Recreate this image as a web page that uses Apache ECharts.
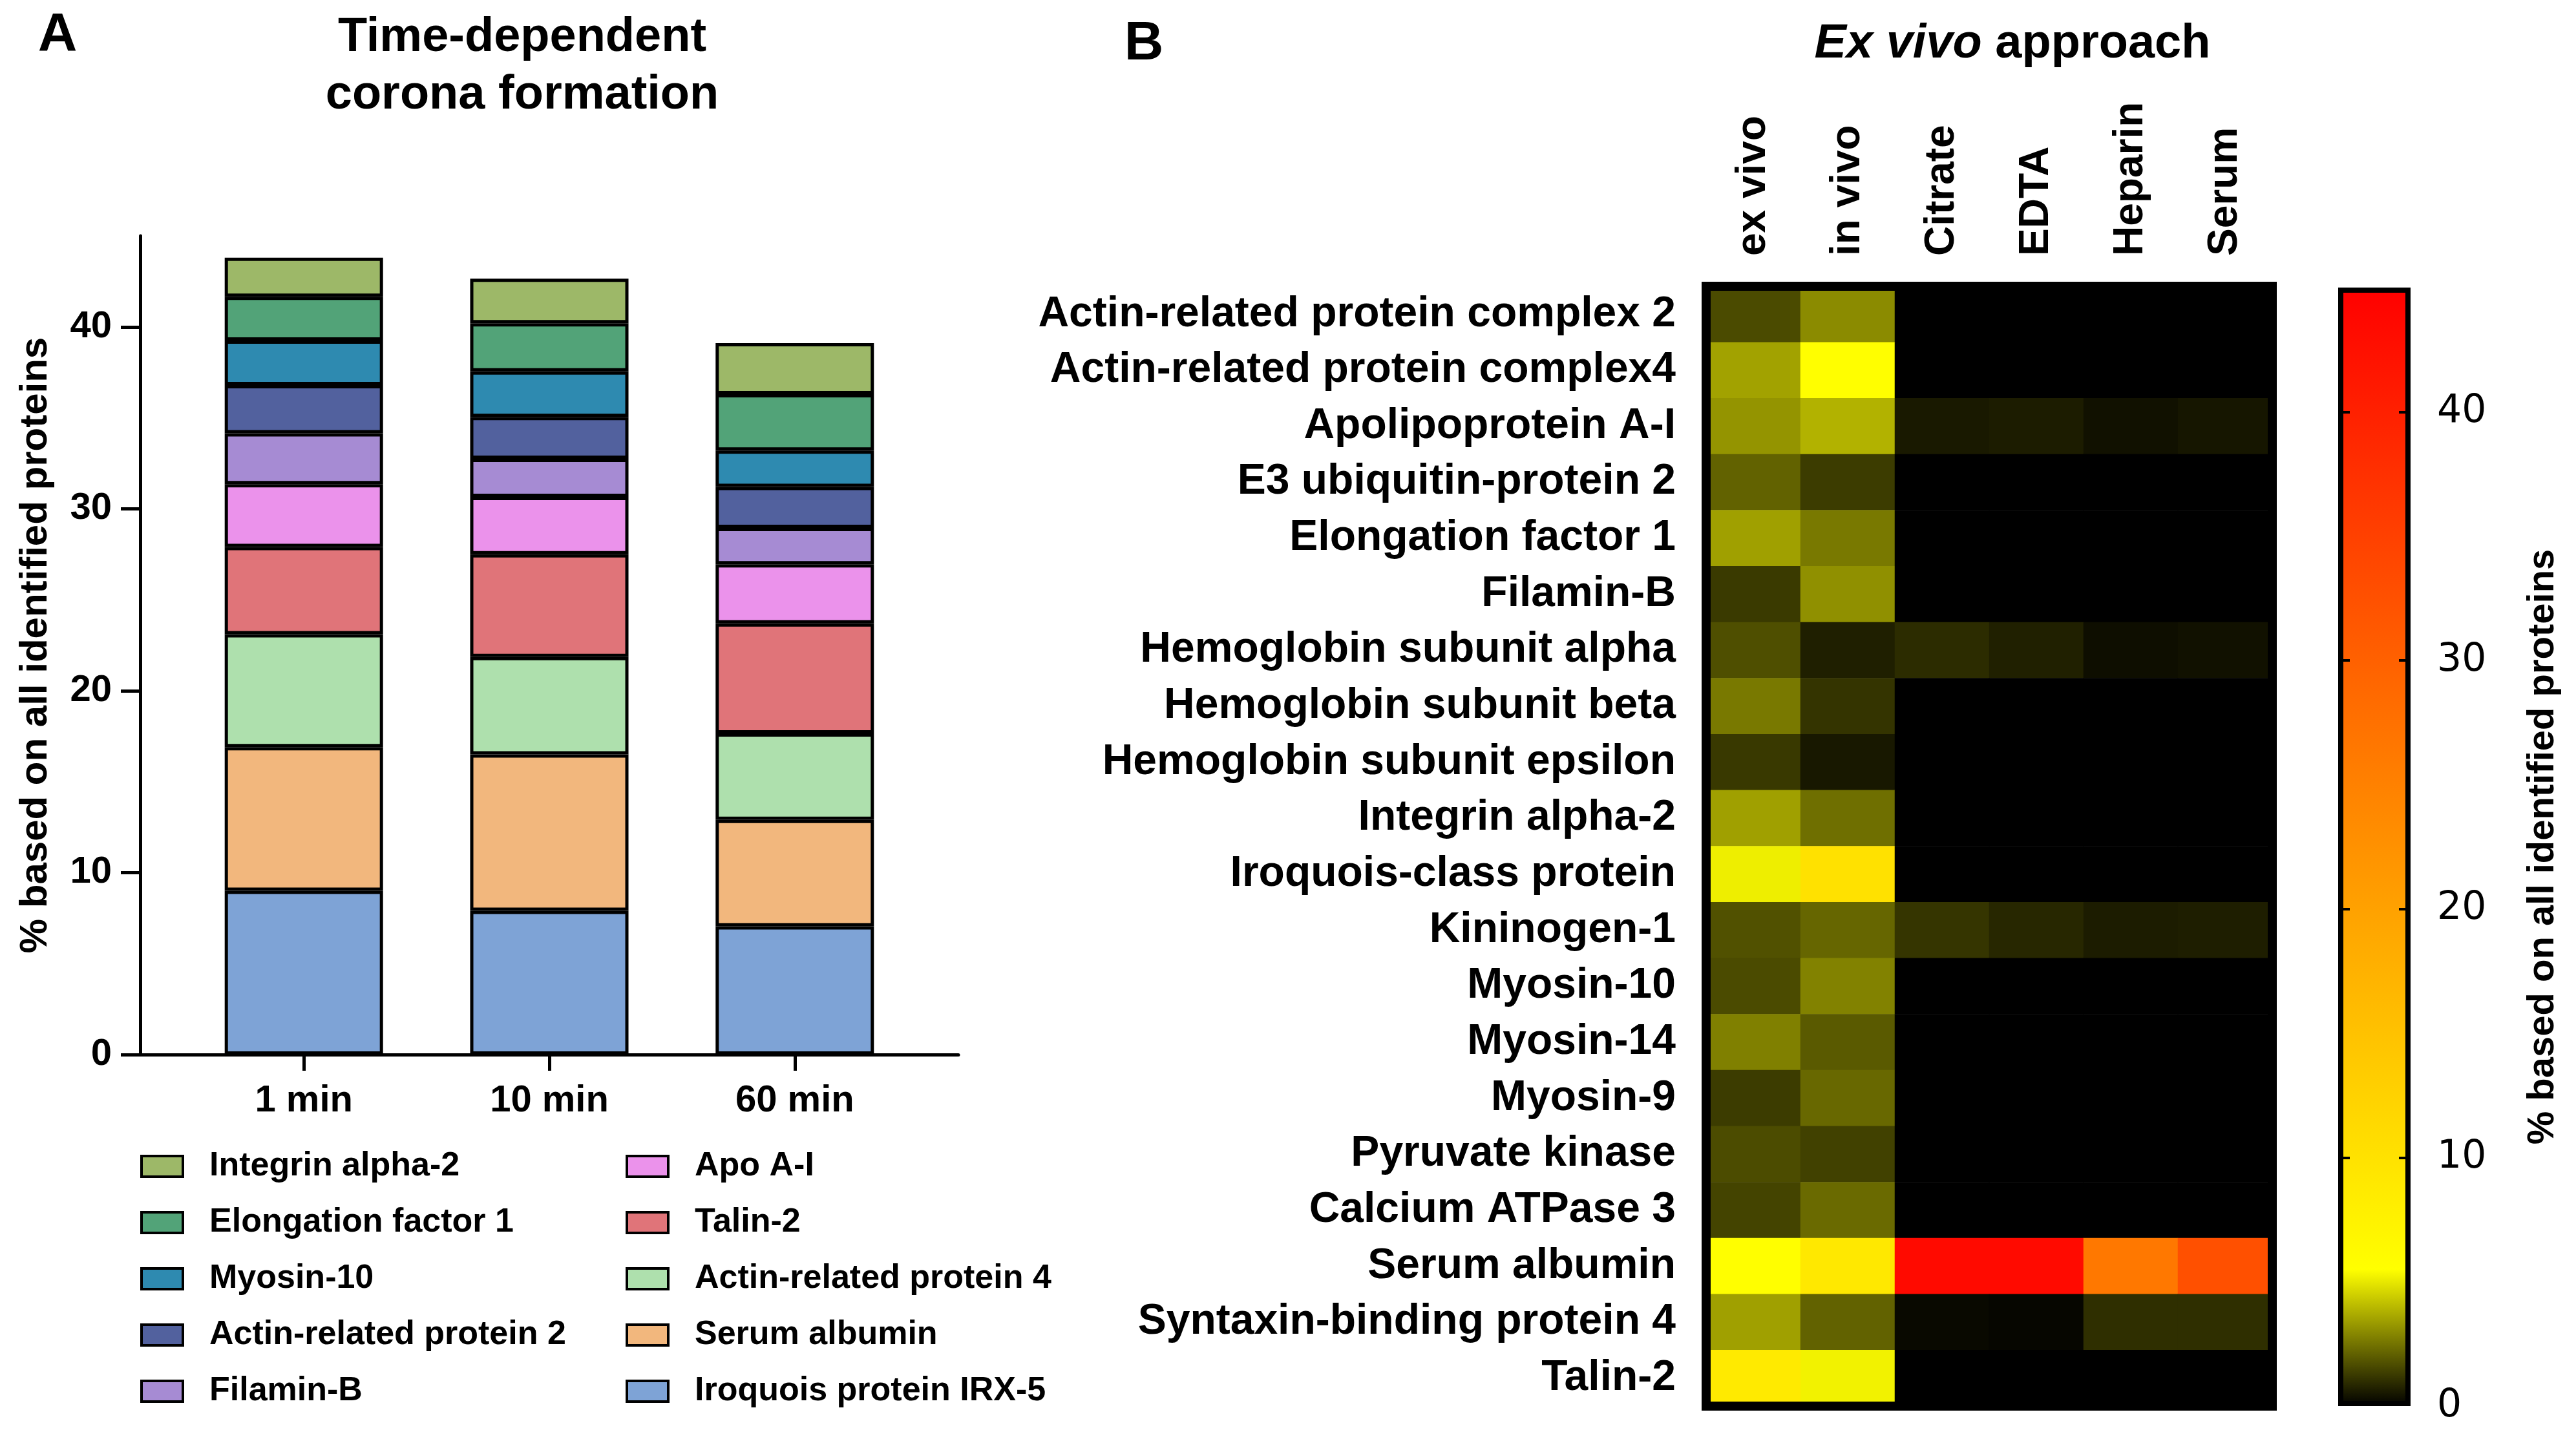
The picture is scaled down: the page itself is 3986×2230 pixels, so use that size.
<!DOCTYPE html>
<html><head><meta charset="utf-8">
<script src="https://cdn.jsdelivr.net/npm/echarts@6/dist/echarts.min.js"></script>
<style>html,body{margin:0;padding:0;background:#fff}#c{width:3986px;height:2230px}</style>
</head><body><div id="c"></div>
<script>
// ---------- Panel A data ----------
const timeCategories = ['1 min', '10 min', '60 min'];
const iroquois   = [9.0, 7.9, 7.05];
const serumAlb   = [7.9, 8.6, 5.85];
const actin4     = [6.2, 5.35, 4.75];
const talin2     = [4.8, 5.65, 6.05];
const apoA1      = [3.45, 3.15, 3.25];
const filaminB   = [2.8, 2.1, 2.0];
const actin2     = [2.65, 2.3, 2.25];
const myosin10   = [2.45, 2.5, 2.0];
const ef1        = [2.4, 2.65, 3.1];
const integrin   = [2.15, 2.45, 2.8];
const stackNames = ['Iroquois protein IRX-5', 'Serum albumin', 'Actin-related protein 4', 'Talin-2', 'Apo A-I',
                    'Filamin-B', 'Actin-related protein 2', 'Myosin-10', 'Elongation factor 1', 'Integrin alpha-2'];
const stackValues = [iroquois, serumAlb, actin4, talin2, apoA1, filaminB, actin2, myosin10, ef1, integrin];
const stackColors = ['#7ea3d6', '#f2b77d', '#aee0ad', '#e07479', '#eb92eb',
                     '#a68bd3', '#52619e', '#2e8ab0', '#52a378', '#9db868'];
const legendCol1 = ['Integrin alpha-2', 'Elongation factor 1', 'Myosin-10', 'Actin-related protein 2', 'Filamin-B'];
const legendCol2 = ['Apo A-I', 'Talin-2', 'Actin-related protein 4', 'Serum albumin', 'Iroquois protein IRX-5'];
const barTicks = [0, 10, 20, 30, 40];

// ---------- Panel B data ----------
const heatColumns = ['ex vivo', 'in vivo', 'Citrate', 'EDTA', 'Heparin', 'Serum'];
const heatRows = ['Actin-related protein complex 2', 'Actin-related protein complex4', 'Apolipoprotein A-I',
  'E3 ubiquitin-protein 2', 'Elongation factor 1', 'Filamin-B', 'Hemoglobin subunit alpha',
  'Hemoglobin subunit beta', 'Hemoglobin subunit epsilon', 'Integrin alpha-2', 'Iroquois-class protein',
  'Kininogen-1', 'Myosin-10', 'Myosin-14', 'Myosin-9', 'Pyruvate kinase', 'Calcium ATPase 3',
  'Serum albumin', 'Syntaxin-binding protein 4', 'Talin-2'];
const heatValues = [
  [1.6, 3.0, 0, 0, 0, 0],
  [3.5, 5.7, 0, 0, 0, 0],
  [3.2, 3.85, 0.55, 0.6, 0.37, 0.47],
  [2.1, 1.3, 0, 0, 0, 0],
  [3.45, 2.6, 0, 0, 0, 0],
  [1.25, 3.1, 0, 0, 0, 0],
  [1.7, 0.67, 0.95, 0.69, 0.3, 0.37],
  [2.6, 1.12, 0, 0, 0, 0],
  [1.23, 0.52, 0, 0, 0, 0],
  [3.45, 2.4, 0, 0, 0, 0],
  [5.13, 10.15, 0, 0, 0, 0],
  [1.73, 2.2, 1.14, 0.84, 0.6, 0.65],
  [1.6, 2.8, 0, 0, 0, 0],
  [2.76, 1.94, 0, 0, 0, 0],
  [1.3, 2.24, 0, 0, 0, 0],
  [1.64, 1.4, 0, 0, 0, 0],
  [1.45, 2.29, 0, 0, 0, 0],
  [5.7, 9.06, 43.5, 43.5, 26.4, 32.6],
  [3.45, 2.1, 0.2, 0.13, 1.03, 1.03],
  [8.75, 5.22, 0, 0, 0, 0]
];
const colorbarMin = 0, colorbarMax = 45;
const colorbarTicks = [0, 10, 20, 30, 40];
const colormapStops = [[0, [0, 0, 0]], [5.5, [255, 255, 0]], [45, [255, 0, 0]]];

// ---------- helpers ----------
const FONT = 'Liberation Sans, Arial, sans-serif';
function cmap(v) {
  for (let i = 0; i < colormapStops.length - 1; i++) {
    const [v0, c0] = colormapStops[i], [v1, c1] = colormapStops[i + 1];
    if (v <= v1 || i === colormapStops.length - 2) {
      const t = Math.max(0, Math.min(1, (v - v0) / (v1 - v0)));
      const c = c0.map((x, k) => Math.round(x + (c1[k] - x) * t));
      return 'rgb(' + c.join(',') + ')';
    }
  }
}
const vmColors = [];
for (let i = 0; i <= 90; i++) vmColors.push(cmap(colorbarMin + (colorbarMax - colorbarMin) * i / 90));
const gradStops = colormapStops.map(([v, c]) => ({
  offset: 1 - (v - colorbarMin) / (colorbarMax - colorbarMin), color: 'rgb(' + c.join(',') + ')'
})).reverse();

// padded slots so that bars sit at 20%, 50%, 80% of the axis line
const slotCount = 11;
const slotOf = k => 2 + 3 * k;
const axisSlots = new Array(slotCount).fill('');
timeCategories.forEach((c, k) => { axisSlots[slotOf(k)] = c; });
function toSlots(arr) {
  const out = new Array(slotCount).fill('-');
  arr.forEach((v, k) => { out[slotOf(k)] = v; });
  return out;
}

const barSeries = stackNames.map((name, i) => ({
  name, type: 'bar', stack: 'total', xAxisIndex: 0, yAxisIndex: 0,
  barWidth: 245, data: toSlots(stackValues[i]),
  itemStyle: { color: stackColors[i], borderColor: '#000', borderWidth: 5 },
  emphasis: { disabled: true }, silent: true
}));

const heatData = [];
heatValues.forEach((row, r) => row.forEach((v, c) => heatData.push([c, r, v])));

const legendBase = {
  orient: 'vertical', top: 1779, padding: 0, itemWidth: 64, itemHeight: 32, itemGap: 35,
  icon: 'rect', selectedMode: false,
  itemStyle: { borderColor: '#000', borderWidth: 4 },
  textStyle: { fontSize: 52, fontWeight: 'bold', color: '#000', fontFamily: FONT, lineHeight: 52, padding: [0, 0, 0, 36] }
};

const titleBase = { textAlign: 'center', textVerticalAlign: 'middle', padding: 0 };

const option = {
  animation: false,
  backgroundColor: '#fff',
  textStyle: { fontFamily: FONT, color: '#000' },
  title: [
    Object.assign({ text: 'A', left: 89, top: 56, textStyle: { fontSize: 84, fontWeight: 'bold', color: '#000', fontFamily: FONT } }, titleBase),
    Object.assign({ text: 'Time-dependent\ncorona formation', left: 808, top: 103,
      textStyle: { fontSize: 74, fontWeight: 'bold', color: '#000', lineHeight: 89, fontFamily: FONT } }, titleBase),
    Object.assign({ text: 'B', left: 1770, top: 69, textStyle: { fontSize: 84, fontWeight: 'bold', color: '#000', fontFamily: FONT } }, titleBase),
    Object.assign({ text: '{i|Ex vivo} approach', left: 3114, top: 69,
      textStyle: { fontSize: 74, fontWeight: 'bold', color: '#000', fontFamily: FONT,
        rich: { i: { fontSize: 74, fontWeight: 'bold', fontStyle: 'italic', color: '#000', fontFamily: FONT } } } }, titleBase)
  ],
  legend: [
    Object.assign({ left: 217, data: legendCol1 }, legendBase),
    Object.assign({ left: 968, data: legendCol2 }, legendBase)
  ],
  grid: [
    { left: 217, top: 365, width: 1266, height: 1267 },
    { left: 2640, top: 443, width: 876, height: 1733 },
    { left: 3618, top: 445, width: 112, height: 1731 }
  ],
  xAxis: [
    { type: 'category', gridIndex: 0, data: axisSlots, boundaryGap: false,
      axisLine: { lineStyle: { color: '#000', width: 5 } },
      axisTick: { interval: (i, v) => v !== '', length: 25, lineStyle: { color: '#000', width: 5 } },
      axisLabel: { interval: (i, v) => v !== '', fontSize: 58, fontWeight: 'bold', color: '#000', margin: 43 },
      splitLine: { show: false } },
    { type: 'category', gridIndex: 1, data: heatColumns, position: 'top',
      axisLine: { lineStyle: { color: '#000', width: 14, cap: 'square' } },
      axisTick: { alignWithLabel: true, length: 39, lineStyle: { color: '#000', width: 10 } },
      axisLabel: { interval: 0, rotate: -90, fontSize: 64, fontWeight: 'bold', color: '#000', margin: 47 },
      splitLine: { show: false }, z: 5 },
    { type: 'category', gridIndex: 1, data: heatColumns, position: 'bottom',
      axisLine: { lineStyle: { color: '#000', width: 14, cap: 'square' } },
      axisTick: { show: false }, axisLabel: { show: false }, splitLine: { show: false }, z: 5 },
    { type: 'category', gridIndex: 2, data: [''], show: false }
  ],
  yAxis: [
    { type: 'value', gridIndex: 0, min: 0, max: 45, interval: 10,
      name: '% based on all identified proteins', nameLocation: 'middle', nameGap: 132, nameRotate: 90,
      nameTextStyle: { fontSize: 60, fontWeight: 'bold', color: '#000' },
      axisLine: { show: true, lineStyle: { color: '#000', width: 5 } },
      axisTick: { show: true, customValues: barTicks, length: 30, lineStyle: { color: '#000', width: 5 } },
      axisLabel: { customValues: barTicks, fontSize: 58, fontWeight: 'bold', color: '#000', margin: 44 },
      splitLine: { show: false } },
    { type: 'category', gridIndex: 1, data: heatRows, inverse: true,
      axisLine: { lineStyle: { color: '#000', width: 14, cap: 'square' } },
      axisTick: { alignWithLabel: true, length: 43, lineStyle: { color: '#000', width: 10 } },
      axisLabel: { interval: 0, fontSize: 66, fontWeight: 'bold', color: '#000', margin: 47 },
      splitLine: { show: false }, z: 5 },
    { type: 'category', gridIndex: 1, data: heatRows, inverse: true, position: 'right',
      axisLine: { lineStyle: { color: '#000', width: 14, cap: 'square' } },
      axisTick: { show: false }, axisLabel: { show: false }, splitLine: { show: false }, z: 5 },
    { type: 'value', gridIndex: 2, min: colorbarMin, max: colorbarMax, position: 'left', interval: 10,
      axisLine: { show: false },
      axisTick: { show: true, inside: true, customValues: [10, 20, 30, 40], length: 18, lineStyle: { color: '#000', width: 4 } },
      axisLabel: { show: false }, splitLine: { show: false }, z: 10 },
    { type: 'value', gridIndex: 2, min: colorbarMin, max: colorbarMax, position: 'right', interval: 10,
      name: '% based on all identified proteins', nameLocation: 'middle', nameGap: 176, nameRotate: 90,
      nameTextStyle: { fontSize: 58, fontWeight: 'bold', color: '#000' },
      axisLine: { show: false },
      axisTick: { show: true, inside: true, customValues: [10, 20, 30, 40], length: 18, lineStyle: { color: '#000', width: 4 } },
      axisLabel: { customValues: colorbarTicks, fontSize: 60, color: '#000', margin: 41, fontFamily: 'DejaVu Sans' },
      splitLine: { show: false }, z: 10 }
  ],
  visualMap: [{
    type: 'continuous', show: false, min: colorbarMin, max: colorbarMax, seriesIndex: stackNames.length,
    inRange: { color: vmColors }
  }],
  series: barSeries.concat([
    { type: 'heatmap', xAxisIndex: 1, yAxisIndex: 1, data: heatData, silent: true,
      itemStyle: { borderWidth: 0 }, emphasis: { disabled: true } },
    { type: 'bar', xAxisIndex: 3, yAxisIndex: 3, data: [colorbarMax], barWidth: '100%', silent: true,
      itemStyle: { color: { type: 'linear', x: 0, y: 0, x2: 0, y2: 1, colorStops: gradStops },
        borderColor: '#000', borderWidth: 8 }, emphasis: { disabled: true } }
  ])
};
const chart = echarts.init(document.getElementById('c'), null, { renderer: 'canvas' });
chart.setOption(option);
</script></body></html>
